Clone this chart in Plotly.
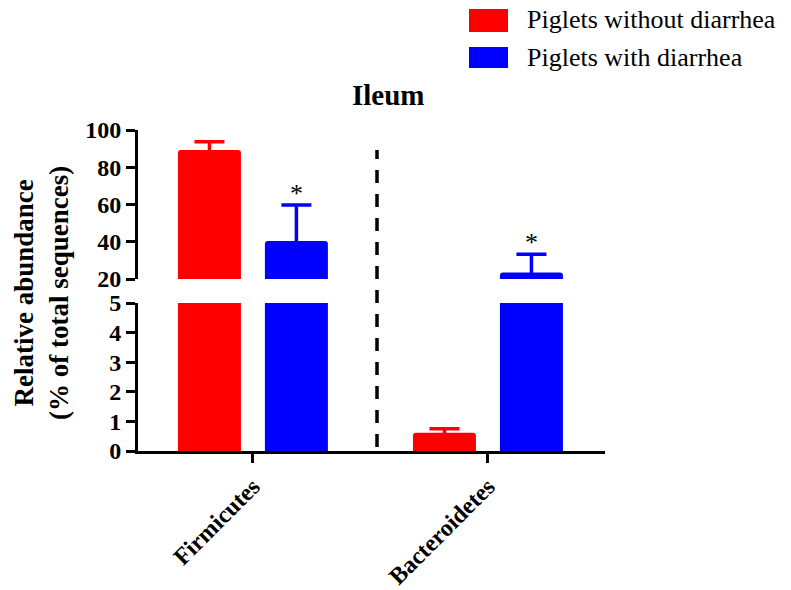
import plotly.graph_objects as go

# ---- data -------------------------------------------------------------
categories = ["Firmicutes", "Bacteroidetes"]
series_names = ["Piglets without diarrhea", "Piglets with diarrhea"]
no_diarrhea = [89.3, 0.62]
no_diarrhea_sd = [4.4, 0.13]
with_diarrhea = [40.4, 23.5]
with_diarrhea_sd = [19.3, 9.8]
significant = [False, True]          # asterisk over the diarrhea bar
lower_ticks = [0, 1, 2, 3, 4, 5]
upper_ticks = [20, 40, 60, 80, 100]

RED = "#FF0000"
BLUE = "#0000FF"
FONT = "Liberation Serif"

# ---- page geometry (pixels) ---------------------------------------------
W, H = 791, 590
ML, MR, MT, MB = 138, 186, 130, 139
PW, PH = W - ML - MR, H - MT - MB


def px(x):
    return (x - ML) / PW


def py(y):
    return (H - MB - y) / PH


BAR_W = 0.268
RED_OFF = -0.319
BLUE_OFF = 0.051

fig = go.Figure()

# each group is drawn in both panels of the broken axis; the subplot clip
# path trims the part outside each panel's range
for yax in ["y", "y2"]:
    fig.add_trace(go.Bar(
        x=categories, y=no_diarrhea, name=series_names[0],
        width=BAR_W, offset=RED_OFF, yaxis=yax, showlegend=False,
        marker=dict(color=RED, line=dict(width=0), cornerradius=3),
        error_y=dict(type="data", array=no_diarrhea_sd, arrayminus=no_diarrhea,
                     symmetric=False, color=RED, thickness=3.5, width=15),
    ))
    fig.add_trace(go.Bar(
        x=categories, y=with_diarrhea, name=series_names[1],
        width=BAR_W, offset=BLUE_OFF, yaxis=yax, showlegend=False,
        marker=dict(color=BLUE, line=dict(width=0), cornerradius=3),
        error_y=dict(type="data", array=with_diarrhea_sd, arrayminus=with_diarrhea,
                     symmetric=False, color=BLUE, thickness=3.5, width=15),
    ))

annotations = []
# significance marks above the diarrhea bars
for i, (v, sd) in enumerate(zip(with_diarrhea, with_diarrhea_sd)):
    if significant[i] or v + sd > 20:
        annotations.append(dict(
            x=i + BLUE_OFF + BAR_W / 2, y=v + sd, xref="x", yref="y2",
            text="*", showarrow=False, yanchor="bottom", yshift=-5,
            font=dict(family=FONT, size=26, color="black"),
        ))

# title
annotations.append(dict(
    x=px(388), y=py(95), xref="paper", yref="paper", text="Ileum",
    showarrow=False, xanchor="center", yanchor="middle",
    font=dict(family=FONT, size=29, color="black", weight="bold"),
))
# y axis title
annotations.append(dict(
    x=px(41), y=py(293), xref="paper", yref="paper", textangle=-90,
    text="Relative abundance<br>(% of total sequences)",
    showarrow=False, xanchor="center", yanchor="middle",
    font=dict(family=FONT, size=27, color="black", weight="bold"),
))

# legend
shapes = []
legend_rows = [(RED, 9, 32, 20), (BLUE, 47, 68, 57)]
for name, (col, y0, y1, yt) in zip(series_names, legend_rows):
    shapes.append(dict(type="rect", xref="paper", yref="paper",
                       x0=px(469), x1=px(508), y0=py(y1), y1=py(y0),
                       fillcolor=col, line=dict(width=0)))
    annotations.append(dict(
        x=px(525), y=py(yt), xref="paper", yref="paper", text=name,
        showarrow=False, xanchor="left", yanchor="middle",
        font=dict(family=FONT, size=26, color="black"),
    ))

# dashed separator between the two phyla
shapes.append(dict(type="line", xref="paper", yref="paper",
                   x0=px(377), x1=px(377), y0=py(447), y1=py(150),
                   line=dict(color="black", width=3.5, dash="13px,11px")))

axis_common = dict(
    showline=True, linecolor="black", linewidth=3, ticks="outside",
    ticklen=9, tickwidth=3, tickcolor="black", showgrid=False, zeroline=False,
    automargin=False,
    tickfont=dict(family=FONT, size=24, color="black", weight="bold"),
)

fig.update_layout(
    width=W, height=H,
    margin=dict(l=ML, r=MR, t=MT, b=MB, pad=0, autoexpand=False),
    paper_bgcolor="white", plot_bgcolor="white",
    barmode="overlay",
    showlegend=False,
    xaxis=dict(
        type="category", range=[-0.489, 1.498], anchor="y",
        tickangle=-45, showline=True, linecolor="black", linewidth=3,
        ticks="outside", ticklen=9, tickwidth=3, tickcolor="black",
        showgrid=False, zeroline=False, automargin=False,
        tickfont=dict(family=FONT, size=24, color="black", weight="bold"),
    ),
    yaxis=dict(domain=[0, py(303)], range=[0, 5], tickvals=lower_ticks,
               anchor="x", **axis_common),
    yaxis2=dict(domain=[py(279), 1], range=[20, 100], tickvals=upper_ticks,
                anchor="x", **axis_common),
    shapes=shapes,
    annotations=annotations,
)

fig.write_html("out.html")
